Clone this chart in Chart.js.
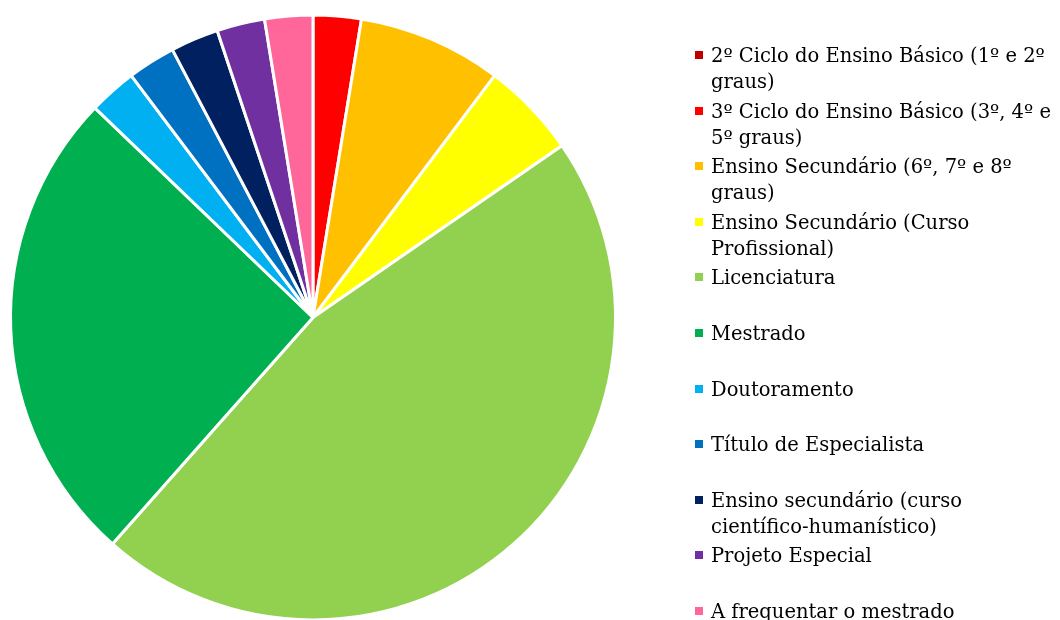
<!DOCTYPE html>
<html>
<head>
<meta charset="utf-8">
<script src="https://cdn.jsdelivr.net/npm/chart.js@4.4.1/dist/chart.umd.min.js"></script>
<style>
  html, body { margin: 0; padding: 0; background: #fff; }
  body { width: 1060px; height: 620px; overflow: hidden; position: relative; }
  #wrap { position: absolute; left: 0; top: 0; width: 1060px; height: 626px; }
  #legend {
    position: absolute; left: 695px; top: 43px; width: 365px;
    font-family: "DejaVu Serif", serif; font-size: 19.5px; color: #000;
  }
  .item { position: relative; height: 55.6px; line-height: 26px; padding-left: 16px; white-space: nowrap; }
  .box { position: absolute; left: 0; top: 8px; width: 8px; height: 8px; }
</style>
</head>
<body>
<div id="wrap"><canvas id="myChart" width="1060" height="626"></canvas></div>
<div id="legend"></div>
<script>
// categories (split into display lines as in the original legend)
const categories = [
    ['2º Ciclo do Ensino Básico (1º e 2º', 'graus)'],
    ['3º Ciclo do Ensino Básico (3º, 4º e', '5º graus)'],
    ['Ensino Secundário (6º, 7º e 8º', 'graus)'],
    ['Ensino Secundário (Curso', 'Profissional)'],
    ['Licenciatura'],
    ['Mestrado'],
    ['Doutoramento'],
    ['Título de Especialista'],
    ['Ensino secundário (curso', 'científico-humanístico)'],
    ['Projeto Especial'],
    ['A frequentar o mestrado']
];
const counts = [0, 1, 3, 2, 18, 10, 1, 1, 1, 1, 1];
const colors = ['#C00000', '#FF0000', '#FFC000', '#FFFF00', '#92D050', '#00B050',
                '#00B0F0', '#0070C0', '#002060', '#7030A0', '#FF6699'];

const config = {
    type: 'pie',
    data: {
        labels: categories,
        datasets: [{
            data: counts,
            backgroundColor: colors,
            borderColor: '#ffffff',
            borderWidth: 3
        }]
    },
    options: {
        responsive: false,
        animation: false,
        layout: {
            padding: { left: 9, right: 443, top: 13, bottom: 4 }
        },
        plugins: {
            legend: { display: false },
            tooltip: { enabled: false }
        }
    }
};

const myChart = new Chart(document.getElementById('myChart'), config);

// html legend built from the chart's own labels / colours
const legendEl = document.getElementById('legend');
myChart.data.labels.forEach(function (lines, i) {
    const item = document.createElement('div');
    item.className = 'item';
    const box = document.createElement('span');
    box.className = 'box';
    box.style.background = myChart.data.datasets[0].backgroundColor[i];
    item.appendChild(box);
    lines.forEach(function (line, j) {
        if (j > 0) item.appendChild(document.createElement('br'));
        item.appendChild(document.createTextNode(line));
    });
    legendEl.appendChild(item);
});
</script>
</body>
</html>
